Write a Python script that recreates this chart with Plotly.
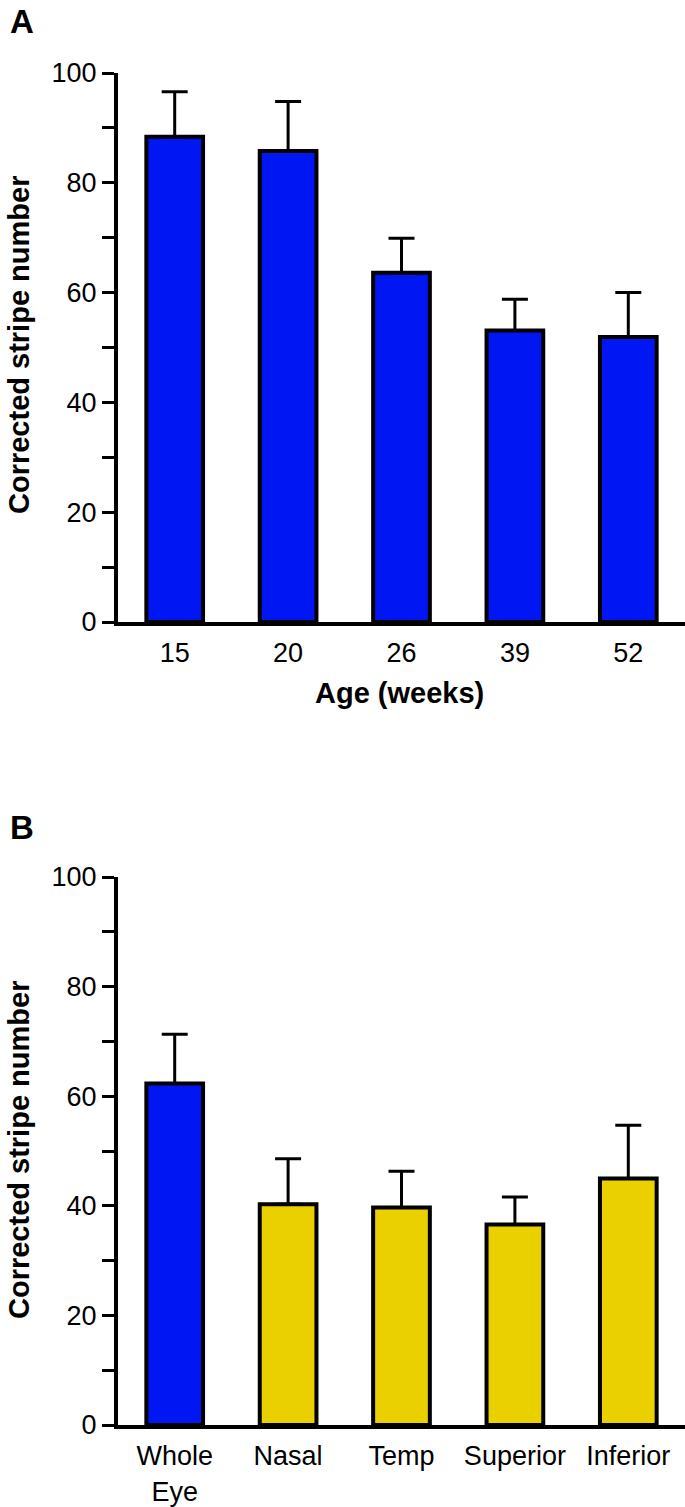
import plotly.graph_objects as go

# panel A: stripe number vs age
ages = ["15", "20", "26", "39", "52"]
age_means = [88.4, 85.8, 63.6, 53.1, 51.9]
age_sem = [8.2, 9.0, 6.3, 5.7, 8.1]

# panel B: retinal regions
regions = ["Whole<br>Eye", "Nasal", "Temp", "Superior", "Inferior"]
region_means = [62.3, 40.3, 39.7, 36.6, 45.0]
region_sem = [9.0, 8.3, 6.6, 5.0, 9.7]

BLUE = "#0016F2"
YELLOW = "#EBD000"
FONT = "Liberation Sans, Arial, sans-serif"

W, H = 685, 1507

def px(x):
    return x / W

def py(y):
    return 1 - y / H

fig = go.Figure()

fig.add_trace(go.Bar(
    x=ages, y=age_means, xaxis="x", yaxis="y",
    marker=dict(color=BLUE, line=dict(color="black", width=4)),
    error_y=dict(type="data", array=age_sem, arrayminus=[0] * 5,
                 color="black", thickness=3, width=13),
    width=0.5, showlegend=False,
))

fig.add_trace(go.Bar(
    x=regions, y=region_means, xaxis="x2", yaxis="y2",
    marker=dict(color=[BLUE, YELLOW, YELLOW, YELLOW, YELLOW],
                line=dict(color="black", width=4)),
    error_y=dict(type="data", array=region_sem, arrayminus=[0] * 5,
                 color="black", thickness=3, width=13),
    width=0.5, showlegend=False,
))

xdom = [px(118), 1.0]
yax = dict(range=[0, 100], tickvals=[0, 20, 40, 60, 80, 100],
           ticks="outside", ticklen=12, tickwidth=3, tickcolor="black",
           showline=True, linewidth=4, linecolor="black",
           showgrid=False, zeroline=False, automargin=False,
           tickfont=dict(family=FONT, size=27, color="black"),
           minor=dict(tickvals=[10, 30, 50, 70, 90], ticks="outside",
                      ticklen=12, tickwidth=3, tickcolor="black"))
xax = dict(showline=True, linewidth=4, linecolor="black", ticks="",
           showgrid=False, range=[-0.5, 4.5], automargin=False,
           tickfont=dict(family=FONT, size=27, color="black"),
           ticklabelstandoff=4)

fig.update_layout(
    width=W, height=H,
    margin=dict(l=0, r=0, t=0, b=0),
    plot_bgcolor="white", paper_bgcolor="white",
    xaxis=dict(xax, domain=xdom, anchor="y"),
    yaxis=dict(yax, domain=[py(622), py(73)], anchor="x"),
    xaxis2=dict(xax, domain=xdom, anchor="y2"),
    yaxis2=dict(yax, domain=[py(1425), py(877)], anchor="x2"),
)

ann = [
    dict(text="<b>A</b>", x=px(9), y=py(22), xanchor="left", yanchor="middle", size=33),
    dict(text="<b>B</b>", x=px(9), y=py(827), xanchor="left", yanchor="middle", size=33),
    dict(text="<b>Corrected stripe number</b>", x=px(19), y=py(345),
         xanchor="center", yanchor="middle", size=29, angle=-90),
    dict(text="<b>Corrected stripe number</b>", x=px(19), y=py(1150),
         xanchor="center", yanchor="middle", size=29, angle=-90),
    dict(text="<b>Age (weeks)</b>", x=px(400), y=py(693),
         xanchor="center", yanchor="middle", size=29),
]
for a in ann:
    fig.add_annotation(text=a["text"], x=a["x"], y=a["y"], xref="paper", yref="paper",
                       xanchor=a["xanchor"], yanchor=a["yanchor"], showarrow=False,
                       textangle=a.get("angle", 0), borderpad=0,
                       font=dict(family=FONT, size=a["size"], color="black"))

# drop the default body margin so the figure fills the window from (0, 0)
fig.write_html("out.html", config={"displayModeBar": False},
               post_script="document.body.style.margin='0';")
